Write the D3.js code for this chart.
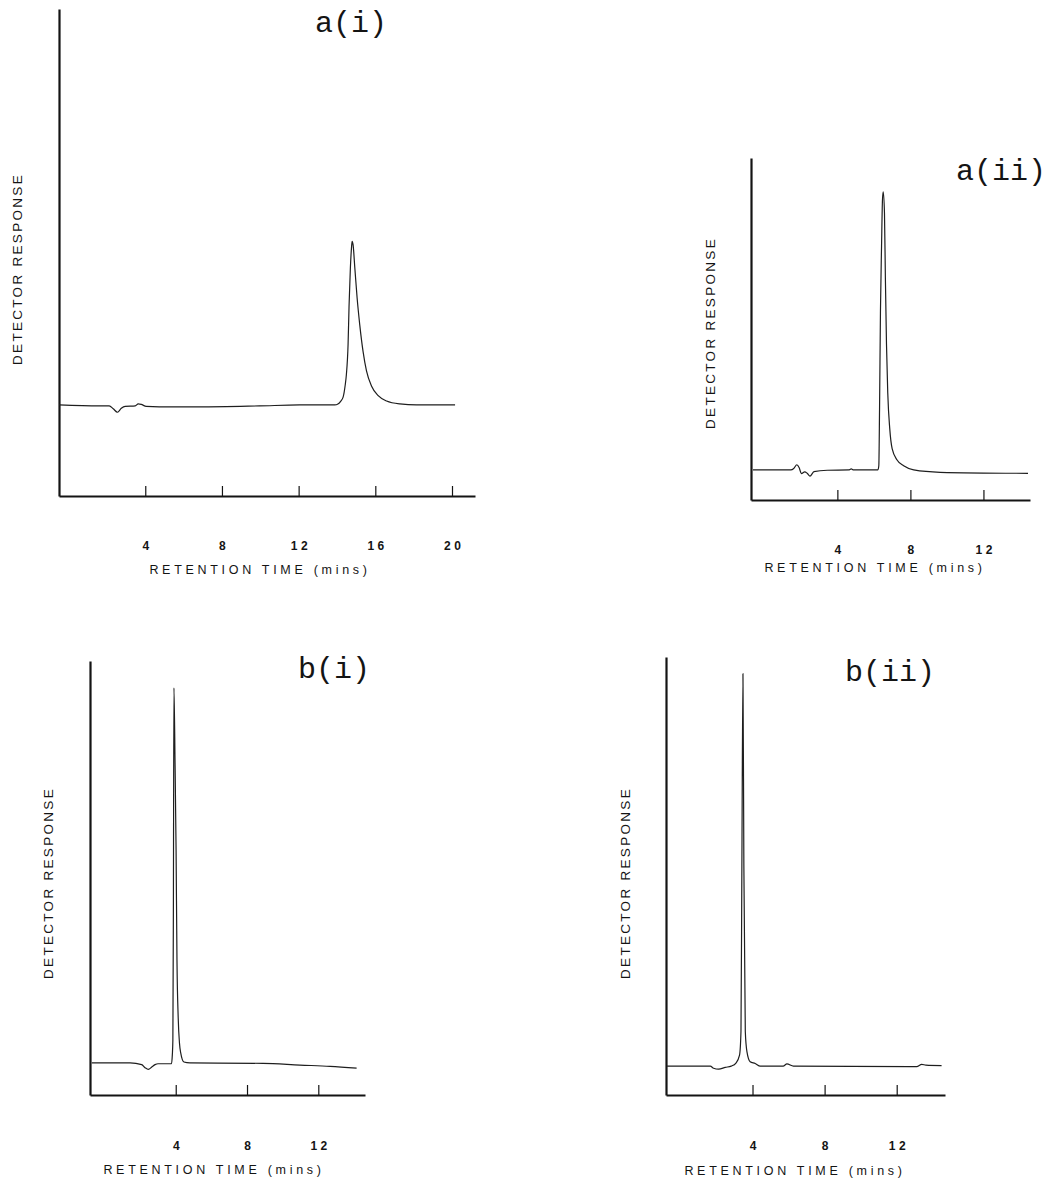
<!DOCTYPE html>
<html>
<head>
<meta charset="utf-8">
<script src="https://cdn.jsdelivr.net/npm/d3@7"></script>
<style>
  html, body { margin: 0; padding: 0; background: #fff; }
  svg { display: block; }
</style>
</head>
<body>
<svg id="chart" width="1050" height="1180"></svg>
<script>
// ---------- DATA ----------
const panelTitles = ["a(i)", "a(ii)", "b(i)", "b(ii)"];
const xAxisTitle = "RETENTION TIME (mins)";
const yAxisTitle = "DETECTOR RESPONSE";

// Tick labels (minutes)
const aiTicks = [4, 8, 12, 16, 20];
const aiiTicks = [4, 8, 12];
const biTicks = [4, 8, 12];
const biiTicks = [4, 8, 12];

// Visible time ranges (minutes) and response range (arbitrary units)
const aiTimeRange = [-0.5, 21.2];
const aiiTimeRange = [-0.73, 14.55];
const biTimeRange = [-0.81, 14.62];
const biiTimeRange = [-0.80, 14.68];
const responseRange = [0, 100];

// a(i) trace
const aiTime = [-0.50, 1.59, 2.12, 2.33, 2.55, 2.75, 2.95, 3.48, 3.63, 3.79, 4.05, 4.73, 6.82, 9.96, 12.05, 13.88,
  14.05, 14.20, 14.32, 14.43, 14.49, 14.58, 14.63, 14.70, 14.76, 14.79, 14.84, 14.93, 15.05, 15.19, 15.36,
  15.54, 15.80, 16.15, 16.59, 17.28, 18.15, 20.16];
const aiResponse = [18.7, 18.5, 18.5, 17.9, 17.2, 18.0, 18.4, 18.5, 18.9, 18.8, 18.4, 18.3, 18.3, 18.5, 18.7, 18.7,
  18.9, 19.5, 20.3, 22.8, 24.9, 31.2, 39.0, 46.9, 51.1, 52.3, 51.6, 46.9, 40.7, 35.1, 29.7,
  25.7, 22.6, 20.6, 19.5, 18.9, 18.7, 18.7];

// a(ii) trace
const aiiTime = [-0.62, 1.45, 1.61, 1.78, 1.91, 2.03, 2.21, 2.35, 2.50, 2.72, 3.45, 4.62, 4.76, 4.89, 6.22,
  6.27, 6.31, 6.36, 6.42, 6.47, 6.51, 6.58, 6.63, 6.69, 6.76, 6.87, 7.00, 7.27, 7.63, 8.18, 9.63, 14.44];
const aiiResponse = [8.8, 8.8, 9.2, 10.3, 9.4, 7.7, 8.2, 7.8, 7.0, 8.3, 8.7, 8.8, 9.1, 8.8, 8.8,
  10.0, 26.5, 55.2, 74.3, 87.7, 90.1, 83.9, 64.8, 45.6, 31.3, 20.8, 15.0, 11.7, 10.0, 8.8, 8.1, 7.8];

// b(i) trace
const biTime = [-0.71, 1.44, 2.09, 2.28, 2.46, 2.67, 2.84, 3.01, 3.76, 3.81, 3.84, 3.87, 3.90, 3.96, 4.02,
  4.07, 4.14, 4.21, 4.28, 4.46, 4.80, 8.90, 10.97, 12.66, 14.15];
const biResponse = [7.4, 7.4, 7.0, 6.3, 5.9, 6.5, 7.0, 7.2, 7.2, 9.3, 12.7, 44.9, 93.8, 77.2, 56.5,
  31.1, 17.7, 12.0, 9.7, 7.6, 7.4, 7.3, 6.9, 6.6, 6.2];

// b(ii) trace
const biiTime = [-0.74, 1.66, 1.84, 2.12, 2.49, 2.82, 3.08, 3.28, 3.36, 3.41, 3.47, 3.52, 3.60, 3.69, 3.87,
  4.15, 4.43, 5.70, 5.91, 6.27, 13.11, 13.39, 13.62, 14.49];
const biiResponse = [6.6, 6.6, 6.1, 5.9, 6.3, 6.6, 7.3, 9.1, 14.5, 52.5, 96.2, 52.5, 14.5, 9.9, 7.6,
  7.2, 6.6, 6.6, 7.1, 6.6, 6.5, 7.0, 6.8, 6.7];

// ---------- LAYOUT ----------
const panels = [
  { title: panelTitles[0], time: aiTime, resp: aiResponse, ticks: aiTicks, xdom: aiTimeRange,
    left: 59, right: 475, top: 9, bottom: 496,
    yLab: [17, 269], tPos: [315, 32], tickBase: 550, xTitle: [258, 574] },
  { title: panelTitles[1], time: aiiTime, resp: aiiResponse, ticks: aiiTicks, xdom: aiiTimeRange,
    left: 751, right: 1030, top: 158, bottom: 500,
    yLab: [710, 333], tPos: [956, 180], tickBase: 554, xTitle: [873, 572] },
  { title: panelTitles[2], time: biTime, resp: biResponse, ticks: biTicks, xdom: biTimeRange,
    left: 90, right: 365, top: 661, bottom: 1095,
    yLab: [48, 883], tPos: [298, 678], tickBase: 1150, xTitle: [212, 1174] },
  { title: panelTitles[3], time: biiTime, resp: biiResponse, ticks: biiTicks, xdom: biiTimeRange,
    left: 666, right: 945, top: 657, bottom: 1095,
    yLab: [625, 883], tPos: [845, 681], tickBase: 1150, xTitle: [793, 1175] }
];

const svg = d3.select("#chart");
const INK = "#141414";
const sansFont = "'Liberation Sans', Arial, Helvetica, sans-serif";

panels.forEach(p => {
  const x = d3.scaleLinear().domain(p.xdom).range([p.left, p.right]);
  const y = d3.scaleLinear().domain(responseRange).range([p.bottom, p.top]);
  const g = svg.append("g");

  // x axis: ticks pointing inward, labels well below
  const tickFs = 12;
  const xAxis = d3.axisBottom(x)
    .tickValues(p.ticks)
    .tickFormat(d3.format("d"))
    .tickSize(-10)
    .tickSizeOuter(0)
    .tickPadding(p.tickBase - p.bottom - tickFs * 0.71);
  const gx = g.append("g").attr("transform", `translate(0,${p.bottom})`).call(xAxis);
  gx.select(".domain").attr("stroke", INK).attr("stroke-width", 2);
  gx.selectAll(".tick line").attr("stroke", INK).attr("stroke-width", 1.2);
  gx.selectAll(".tick text")
    .attr("fill", INK)
    .attr("font-family", sansFont)
    .attr("font-size", tickFs)
    .attr("font-weight", "bold")
    .attr("letter-spacing", "3.5px")
    .attr("dx", "1.75px");

  // y axis: plain line only
  const yAxis = d3.axisLeft(y).tickValues([]).tickSizeOuter(0);
  const gy = g.append("g").attr("transform", `translate(${p.left},0)`).call(yAxis);
  gy.select(".domain").attr("stroke", INK).attr("stroke-width", 2.2);

  // trace
  const pts = p.time.map((t, i) => [t, p.resp[i]]);
  const line = d3.line()
    .x(d => x(d[0]))
    .y(d => y(d[1]))
    .curve(d3.curveMonotoneX);
  g.append("path")
    .datum(pts)
    .attr("fill", "none")
    .attr("stroke", "#1e1e1e")
    .attr("stroke-width", 1.2)
    .attr("stroke-linejoin", "round")
    .attr("d", line);

  // panel title
  g.append("text")
    .attr("x", p.tPos[0]).attr("y", p.tPos[1])
    .attr("font-family", "'Liberation Mono', 'Courier New', monospace")
    .attr("font-size", 30)
    .attr("fill", INK)
    .text(p.title);

  // x axis title
  g.append("text")
    .attr("x", p.xTitle[0] + 2).attr("y", p.xTitle[1])
    .attr("text-anchor", "middle")
    .attr("font-family", sansFont)
    .attr("font-size", 12.5)
    .attr("letter-spacing", "3.7px")
    .attr("fill", INK)
    .text(xAxisTitle);

  // y axis title
  g.append("text")
    .attr("transform", `translate(${p.yLab[0] + 5},${p.yLab[1]}) rotate(-90)`)
    .attr("text-anchor", "middle")
    .attr("font-family", sansFont)
    .attr("font-size", 13.5)
    .attr("letter-spacing", "2.3px")
    .attr("fill", INK)
    .text(yAxisTitle);
});
</script>
</body>
</html>
